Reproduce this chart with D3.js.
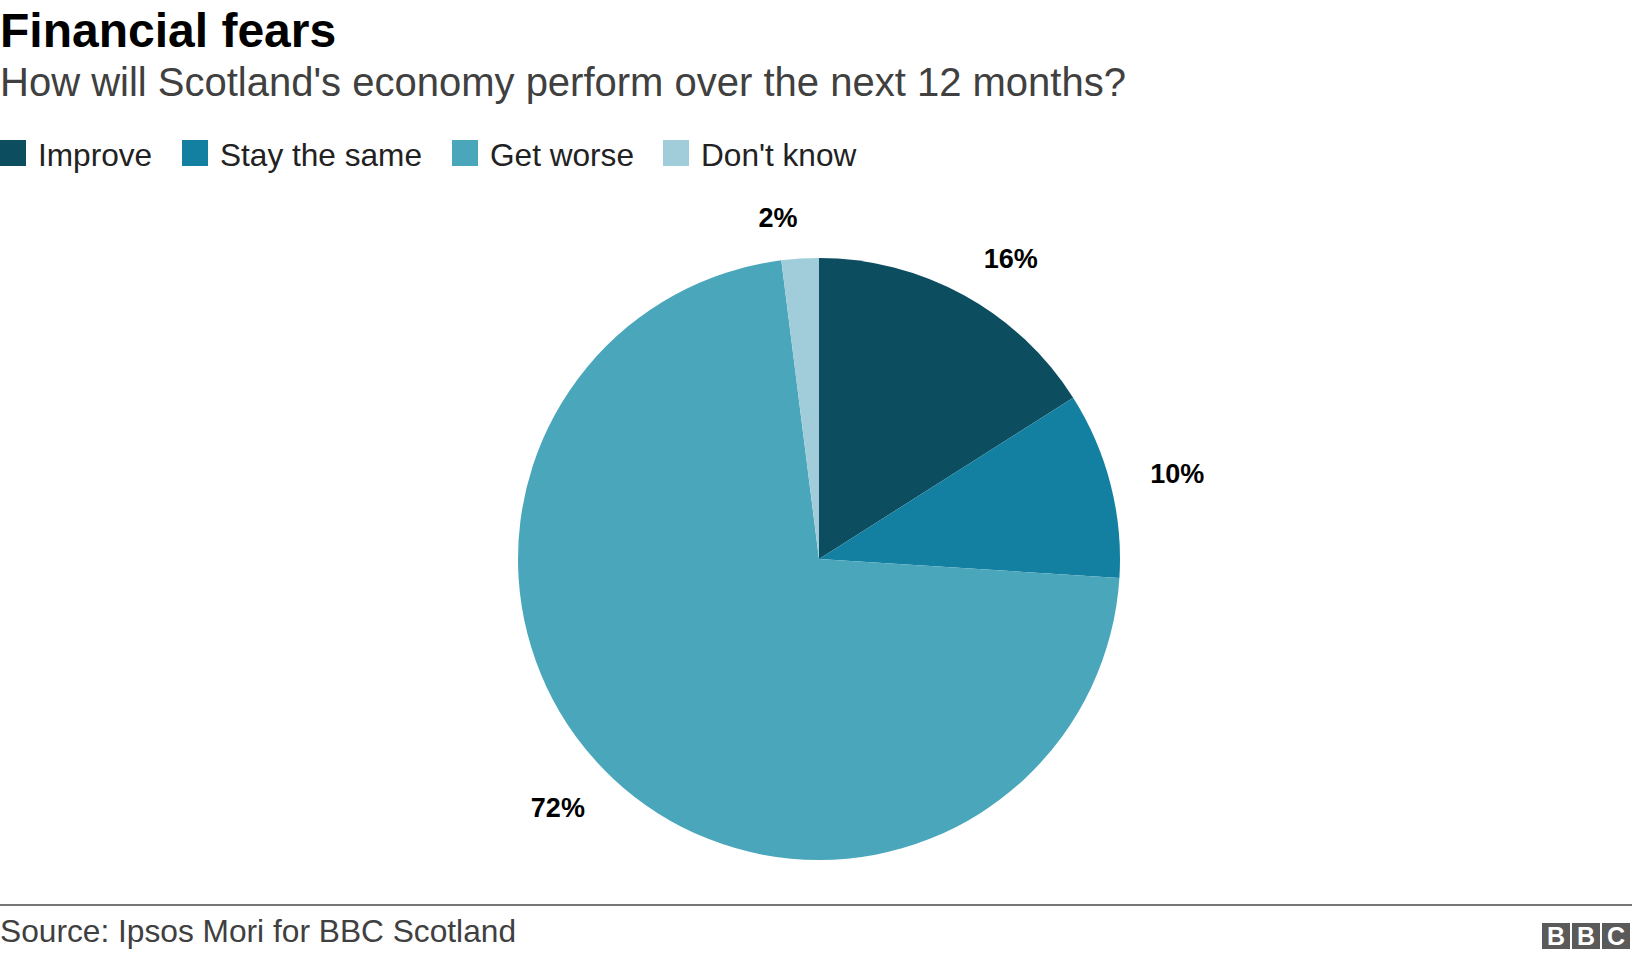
<!DOCTYPE html>
<html>
<head>
<meta charset="utf-8">
<script src="https://cdn.jsdelivr.net/npm/d3@7"></script>
<style>
  html, body { margin: 0; padding: 0; background: #fff; }
  svg { display: block; }
  text { font-family: "Liberation Sans", Arial, Helvetica, sans-serif; }
</style>
</head>
<body>
<script>
const title = "Financial fears";
const subtitle = "How will Scotland's economy perform over the next 12 months?";
const source = "Source: Ipsos Mori for BBC Scotland";
const categories = ["Improve", "Stay the same", "Get worse", "Don't know"];
const values = [16, 10, 72, 2];
const colors = ["#0d4d60", "#1380a1", "#4aa6bb", "#a1cdda"];
const legendX = [0, 182, 452, 663];

const W = 1632, H = 960;
const svg = d3.select("body").append("svg").attr("width", W).attr("height", H);

svg.append("text").attr("x", 0).attr("y", 47).attr("font-size", 48)
  .attr("font-weight", "bold").attr("fill", "#000").text(title);
svg.append("text").attr("x", 0).attr("y", 96).attr("font-size", 40)
  .attr("fill", "#404040").text(subtitle);

// legend
const leg = svg.append("g");
categories.forEach((c, i) => {
  leg.append("rect").attr("x", legendX[i]).attr("y", 140).attr("width", 26).attr("height", 26).attr("fill", colors[i]);
  leg.append("text").attr("x", legendX[i] + 38).attr("y", 166).attr("font-size", 31.6)
    .attr("fill", "#222").text(c);
});

// pie
const cx = 819, cy = 559, R = 301, labelR = 342;
const data = categories.map((c, i) => ({ name: c, value: values[i], color: colors[i] }));
const pie = d3.pie().value(d => d.value).sort(null);
const arcs = pie(data);
const arc = d3.arc().innerRadius(0).outerRadius(R);
const g = svg.append("g").attr("transform", `translate(${cx},${cy})`);
g.selectAll("path").data(arcs).join("path")
  .attr("d", arc).attr("fill", d => d.data.color);

g.selectAll("text.lbl").data(arcs).join("text")
  .attr("class", "lbl")
  .each(function(d) {
    const a = (d.startAngle + d.endAngle) / 2;
    const x = Math.sin(a) * labelR, y = -Math.cos(a) * labelR;
    d3.select(this).attr("x", x).attr("y", y)
      .attr("text-anchor", x >= 0 ? "start" : "end");
  })
  .attr("dy", "0.33em")
  .attr("font-size", 27).attr("font-weight", "bold").attr("fill", "#000")
  .text(d => d.data.value + "%");

// footer
svg.append("line").attr("x1", 0).attr("x2", W).attr("y1", 905).attr("y2", 905)
  .attr("stroke", "#777").attr("stroke-width", 2);
svg.append("text").attr("x", 0).attr("y", 942).attr("font-size", 31.7)
  .attr("fill", "#404040").text(source);

const logo = svg.append("g");
["B", "B", "C"].forEach((ch, i) => {
  const x0 = 1542 + i * 30;
  logo.append("rect").attr("x", x0).attr("y", 923).attr("width", 28).attr("height", 26).attr("fill", "#5a5a5a");
  logo.append("text").attr("x", x0 + 14).attr("y", 945).attr("text-anchor", "middle")
    .attr("font-size", 25).attr("font-weight", "bold").attr("fill", "#fff").text(ch);
});
</script>
</body>
</html>
